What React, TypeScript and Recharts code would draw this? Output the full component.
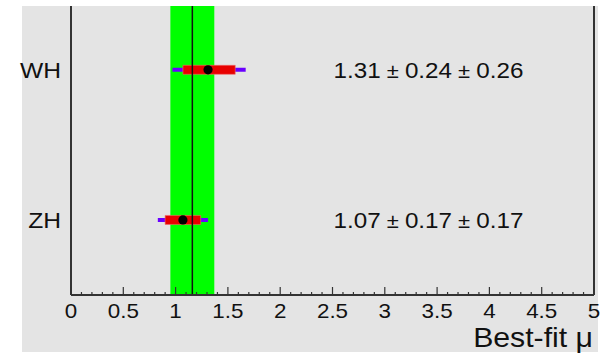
import { ComposedChart, ReferenceArea, ReferenceLine, Scatter, XAxis, YAxis } from 'recharts';

const CHANNELS = ['ZH', 'WH'];
const ROW_POS = [0.5, 1.5];
const BEST_FIT = [1.07, 1.31];
const STAT_LO = [0.9, 1.07];
const STAT_HI = [1.24, 1.57];
const TOTAL_LO = [0.83, 0.97];
const TOTAL_HI = [1.31, 1.67];
const RESULT_VALUE = ['1.07', '1.31'];
const RESULT_STAT = ['0.17', '0.24'];
const RESULT_SYST = ['0.17', '0.26'];
const TEXT_X = [2.51, 2.51];

const COMBINED_MU = 1.16;
const COMBINED_LO = 0.95;
const COMBINED_HI = 1.37;

const X_TICKS = [
  0, 0.1, 0.2, 0.3, 0.4, 0.5, 0.6, 0.7, 0.8, 0.9,
  1, 1.1, 1.2, 1.3, 1.4, 1.5, 1.6, 1.7, 1.8, 1.9,
  2, 2.1, 2.2, 2.3, 2.4, 2.5, 2.6, 2.7, 2.8, 2.9,
  3, 3.1, 3.2, 3.3, 3.4, 3.5, 3.6, 3.7, 3.8, 3.9,
  4, 4.1, 4.2, 4.3, 4.4, 4.5, 4.6, 4.7, 4.8, 4.9, 5,
];

const FONT = '"Liberation Sans", Arial, Helvetica, sans-serif';
const AXIS_COLOR = '#333';
const STAT_COLOR = '#e80000';
const TOTAL_COLOR = '#6a00ff';
const BAND_COLOR = '#00ff00';

const points = CHANNELS.map((name, i) => ({ name, x: BEST_FIT[i], y: ROW_POS[i] }));
const texts = CHANNELS.map((name, i) => ({
  name,
  x: TEXT_X[i],
  y: ROW_POS[i],
  value: RESULT_VALUE[i],
  stat: RESULT_STAT[i],
  syst: RESULT_SYST[i],
}));

const isMajor = (v: number) => Math.abs(v * 2 - Math.round(v * 2)) < 1e-6;

// the source picture is a bit wider than tall, so text is stretched sideways
const stretch = (x: number, y: number, s = 1.12) => `translate(${x} ${y}) scale(${s} 1)`;

// ROOT-style ticks: pointing into the frame, labels only on the half-units
function XTick(props: any) {
  const { x, y, payload } = props;
  const v = payload.value as number;
  const major = isMajor(v);
  return (
    <g>
      <line x1={x} x2={x} y1={y} y2={y - (major ? 8 : 3)} stroke={AXIS_COLOR} strokeWidth={1.2} />
      {major && (
        <text transform={stretch(x, y + 23)} textAnchor="middle" fontSize={20} fontFamily={FONT} fill="#111">
          {String(v)}
        </text>
      )}
    </g>
  );
}

function YTick(props: any) {
  const { x, y, payload } = props;
  const name = CHANNELS[ROW_POS.indexOf(payload.value)] ?? '';
  return (
    <text transform={stretch(x, y + 8)} textAnchor="end" fontSize={22} fontFamily={FONT} fill="#111">
      {name}
    </text>
  );
}

export default function App() {
  return (
    <div style={{ position: 'absolute', left: 0, top: 0, width: 605, height: 355, background: '#fff' }}>
      <div style={{ position: 'absolute', left: 22, top: 6, width: 576, height: 346, background: '#e4e4e4' }} />
      <div style={{ position: 'absolute', left: 0, top: 0 }}>
        <ComposedChart width={605} height={355} margin={{ top: 6, right: 11, bottom: 0, left: 0 }}>
          <XAxis
            dataKey="x"
            type="number"
            domain={[0, 5]}
            ticks={X_TICKS}
            interval={0}
            allowDataOverflow
            height={60}
            tickSize={0}
            tickMargin={0}
            tickLine={false}
            tick={<XTick />}
            axisLine={{ stroke: AXIS_COLOR, strokeWidth: 2 }}
            label={{
              content: (p: any) => {
                const vb = p.viewBox;
                return (
                  <text
                    transform={`translate(${vb.x + vb.width - 1} ${vb.y + 52}) scale(1.08 1)`}
                    textAnchor="end"
                    fontSize={28}
                    fontFamily={FONT}
                    fill="#111"
                  >
                    Best-fit μ
                  </text>
                );
              },
            }}
          />
          <YAxis
            dataKey="y"
            type="number"
            domain={[0, 1.925]}
            ticks={ROW_POS}
            width={71}
            tickSize={0}
            tickMargin={10}
            tickLine={false}
            axisLine={{ stroke: AXIS_COLOR, strokeWidth: 2 }}
            tick={<YTick />}
          />
          <ReferenceArea x1={COMBINED_LO} x2={COMBINED_HI} y1={0} y2={1.925} fill={BAND_COLOR} fillOpacity={1} stroke="none" />
          <ReferenceLine x={COMBINED_MU} stroke="#111" strokeWidth={1.5} />
          <ReferenceLine x={5} stroke={AXIS_COLOR} strokeWidth={2} />
          {CHANNELS.map((name, i) => (
            <ReferenceArea
              key={`tot-${name}`}
              x1={TOTAL_LO[i]}
              x2={TOTAL_HI[i]}
              y1={ROW_POS[i] - 0.0135}
              y2={ROW_POS[i] + 0.0135}
              fill={TOTAL_COLOR}
              fillOpacity={1}
              stroke="none"
            />
          ))}
          {CHANNELS.map((name, i) => (
            <ReferenceArea
              key={`stat-${name}`}
              x1={STAT_LO[i]}
              x2={STAT_HI[i]}
              y1={ROW_POS[i] - 0.03}
              y2={ROW_POS[i] + 0.03}
              fill={STAT_COLOR}
              fillOpacity={1}
              stroke="#f26a6a"
              strokeWidth={0.6}
            />
          ))}
          <Scatter
            data={points}
            isAnimationActive={false}
            shape={(p: any) => <circle cx={p.cx} cy={p.cy} r={4.6} fill="#000" />}
          />
          {/* ROOT's #pm glyph is smaller than the digits around it */}
          <Scatter
            data={texts}
            isAnimationActive={false}
            shape={(p: any) => (
              <text transform={stretch(p.cx, p.cy + 8, 1.1)} textAnchor="start" fontSize={22} fontFamily={FONT} fill="#111">
                {p.payload.value}
                <tspan fontSize={20}> ± </tspan>
                {p.payload.stat}
                <tspan fontSize={20}> ± </tspan>
                {p.payload.syst}
              </text>
            )}
          />
        </ComposedChart>
      </div>
    </div>
  );
}
